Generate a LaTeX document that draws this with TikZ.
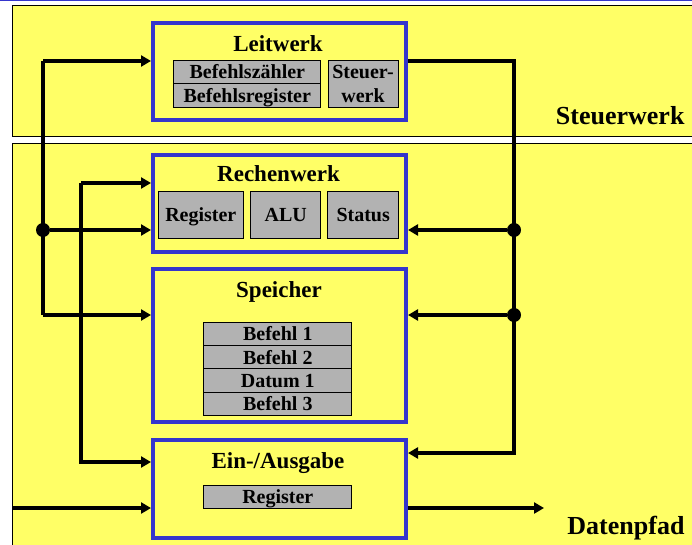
\documentclass[tikz,border=0pt]{standalone}
\usepackage{fontspec}
\setmainfont{Liberation Serif}
\usepackage{xcolor}
\usetikzlibrary{arrows.meta, positioning}
\definecolor{areayellow}{HTML}{FFFF66}
\definecolor{unitblue}{HTML}{3535CC}
\definecolor{cellgray}{HTML}{B2B2B2}

\begin{document}
\begin{tikzpicture}[x=1pt, y=-1pt,
  region/.style={draw=black, line width=1pt, fill=areayellow},
  unit/.style={draw=unitblue, line width=4pt, fill=areayellow, minimum width=253pt, inner sep=0pt},
  title/.style={anchor=base, font=\fontsize{23}{27}\selectfont\bfseries},
  area/.style={anchor=base east, font=\fontsize{26}{30}\selectfont\bfseries},
  cell/.style={draw=black, line width=1pt, fill=cellgray, inner sep=0pt, minimum height=23.4pt,
    text height=13.3pt, text depth=0pt, font=\fontsize{20}{23.5}\selectfont\bfseries},
  bus/.style={line width=3.4pt},
  arrow/.style={bus, -{Triangle[length=10pt, width=11pt]}},
  dot/.style={circle, fill=black, inner sep=0pt, minimum size=14pt}
]
\useasboundingbox (0,0) rectangle (692,545);
\draw[unitblue, line width=1.5pt] (0,0.75) -- (692,0.75);
\draw[region] (12,6) rectangle (700,137);
\draw[region] (12,144) rectangle (700,560);

% Einheiten
\node[unit, minimum height=97.3pt] (leitwerk) at (279.5,71.4) {};
\node[unit, minimum height=97.3pt] (rechenwerk) at (279.5,203.4) {};
\node[unit, minimum height=152.7pt] (speicher) at (279.5,345.7) {};
\node[unit, minimum height=98pt] (eingabe) at (279.5,489) {};

\node[title] (tleit) at (278,51.3) {Leitwerk};
\node[title] (trechen) at (278.5,181.7) {Rechenwerk};
\node[title] (tspeicher) at (279,297.7) {Speicher};
\node[title] (tein) at (278,468) {Ein-/Ausgabe};

\node[area] (steuerwerk) at (688,125) {Steuerwerk};
\node[area] (datenpfad) at (688,534) {Datenpfad};

% Register und Zellen
\node[cell, minimum width=146.7pt] (bzaehler) at (247.3,72) {Befehlszähler};
\node[cell, minimum width=146.7pt] (bregister) at (247.3,95.4) {Befehlsregister};
\node[cell, minimum width=70pt, minimum height=47pt, text height=, text depth=, align=center] (steuer) at (363,83.8) {Steuer-\\werk};

\node[cell, minimum width=85.6pt, minimum height=46.6pt] (register) at (200.8,215) {Register};
\node[cell, minimum width=70pt, minimum height=46.6pt] (alu) at (285.7,215) {ALU};
\node[cell, minimum width=70.5pt, minimum height=46.6pt] (status) at (363.2,215) {Status};

\foreach \txt [count=\i] in {Befehl 1, Befehl 2, Datum 1, Befehl 3}
  \node[cell, minimum width=147.7pt] (zeile\i) at (277.8,311+23.2*\i) {\txt};

\node[cell, minimum width=147.7pt] (ioregister) at (277.8,496.7) {Register};

% Busse links
\coordinate (ltop) at (43,61);
\coordinate (lbot) at (43,315);
\node[dot] (ldot) at (43,230) {};
\coordinate (etop) at (81,183);
\coordinate (ebot) at (81,462);
\draw[bus] (ltop) -- (lbot);
\draw[arrow] (ltop) -- (ltop -| leitwerk.west);
\draw[arrow] (ldot) -- (ldot -| rechenwerk.west);
\draw[arrow] (lbot) -- (lbot -| speicher.west);
\draw[arrow] (etop) -- (etop -| rechenwerk.west);
\draw[arrow] (etop) -- (ebot) -- (ebot -| eingabe.west);

% Bus rechts
\coordinate (rtop) at (514,61);
\coordinate (rbot) at (514,453);
\node[dot] (rdot1) at (514,230) {};
\node[dot] (rdot2) at (514,315) {};
\draw[arrow] (leitwerk.east |- rtop) -- (rtop) -- (rbot) -- (rbot -| eingabe.east);
\draw[arrow] (rdot1) -- (rdot1 -| rechenwerk.east);
\draw[arrow] (rdot2) -- (rdot2 -| speicher.east);

% Datenpfad
\coordinate (din) at (12,508);
\coordinate (dout) at (544,508);
\draw[arrow] (din) -- (din -| eingabe.west);
\draw[arrow] (eingabe.east |- dout) -- (dout);
\end{tikzpicture}
\end{document}
